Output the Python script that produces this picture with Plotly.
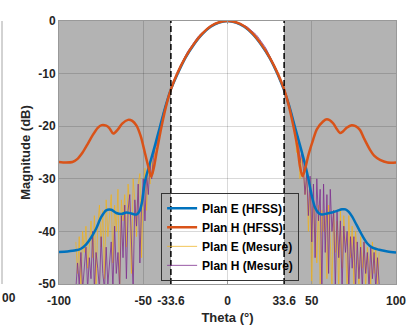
import plotly.graph_objects as go

# ---------------- data ----------------
# HFSS simulations (knots)
theta_e_hfss = [-100, -95, -90, -87, -84, -81, -78, -75, -72, -69,
                -66, -63, -60, -57, -54, -52, -50.5, -49, -46, -43,
                -40, -36.5, -33.6, -30, -25, -20, -15, -10, -5, 0,
                5, 10, 15, 20, 25, 30, 33.6, 36.5, 40, 43,
                46, 48, 50, 52, 54, 56, 59, 62, 65, 68,
                70, 72, 74, 76, 78, 80, 83, 86, 90, 95, 100]
plan_e_hfss = [-43.9, -43.8, -43.6, -43.3, -42.5, -41.2, -39.5, -37.3, -36.0, -35.9,
               -36.5, -36.7, -36.4, -36.6, -36.8, -36.0, -34.0, -30.5, -27.0, -23.6,
               -20.0, -15.9, -13.0, -10.3, -7.0, -4.5, -2.5, -1.1, -0.3, 0,
               -0.3, -1.1, -2.5, -4.5, -7.0, -10.3, -13.2, -16.0, -20.1, -23.6,
               -27.2, -30.0, -33.2, -35.5, -36.5, -36.8, -36.6, -36.4, -36.1, -35.8,
               -35.8, -36.3, -37.2, -38.4, -39.6, -40.8, -42.3, -43.1, -43.5, -43.8, -44.0]

theta_h_hfss = [-100, -96, -92, -89, -86, -83, -80, -77, -74.7, -72,
                -70, -67.8, -65, -62.5, -59, -56.5, -54, -51.5, -49, -47,
                -45.3, -43.8, -42, -39, -36, -33.6, -30, -25, -20, -15,
                -10, -5, 0, 5, 10, 15, 20, 25, 30, 33.6,
                36, 39, 41.5, 43, 44.5, 46, 48, 50.8, 53, 56.7,
                59, 62.6, 65, 66.8, 68.5, 70.7, 73.7, 76, 78.6, 81,
                84.6, 87, 90.5, 95, 100]
plan_h_hfss = [-26.8, -26.9, -26.8, -26.2, -25.0, -23.4, -21.7, -20.3, -19.8, -19.9,
               -20.4, -21.4, -20.6, -19.5, -18.8, -19.0, -19.9, -21.9, -25.1, -27.7,
               -29.6, -28.0, -24.8, -19.8, -15.6, -13.0, -10.1, -6.9, -4.4, -2.4,
               -1.0, -0.25, 0, -0.25, -1.0, -2.4, -4.4, -6.9, -10.1, -13.0,
               -15.6, -19.8, -24.0, -27.6, -29.5, -28.2, -25.5, -22.6, -20.6, -19.1,
               -18.7, -19.4, -20.6, -21.3, -21.0, -20.3, -19.8, -20.0, -20.7, -22.3,
               -24.5, -25.6, -26.4, -26.9, -26.9]

# Measurements, one value per degree from -90 to 90
theta_mes = list(range(-90, 91))
plan_e_mes = [
    # -90 .. -37
    -42, -48, -41, -51, -40, -44, -39, -47, -43, -38,
    -45, -37, -50, -39, -35, -43, -36, -49, -34, -41,
    -37, -33, -46, -35, -40, -32, -51, -34, -38, -33,
    -43, -31, -36, -48, -30, -34, -41, -31, -29, -45,
    -32, -28, -36, -27, -31, -26, -29, -24, -25, -22,
    -20, -18.5, -17.2, -16.1,
    # -36 .. 36
    -15.4, -14.5, -13.4, -12.6, -11.7, -10.9, -10.2, -9.4, -8.8, -8.0,
    -7.5, -6.9, -6.3, -5.8, -5.2, -4.8, -4.3, -3.9, -3.4, -3.0,
    -2.7, -2.3, -2.0, -1.7, -1.4, -1.2, -0.95, -0.8, -0.6, -0.45,
    -0.35, -0.25, -0.15, -0.1, -0.05, -0.02, 0,
    -0.02, -0.06, -0.12, -0.2, -0.3, -0.4, -0.55, -0.7, -0.9, -1.1,
    -1.3, -1.55, -1.85, -2.15, -2.5, -2.85, -3.2, -3.6, -4.0, -4.5,
    -5.0, -5.5, -6.0, -6.6, -7.2, -7.8, -8.4, -9.1, -9.8, -10.5,
    -11.2, -12.0, -12.8, -13.6, -14.5, -15.4,
    # 37 .. 90
    -16.6, -17.8, -19.2, -21, -25, -23, -30, -26, -28, -33,
    -29, -40, -31, -51, -34, -38, -46, -35, -51, -36,
    -40, -37, -49, -35, -42, -51, -36, -44, -38, -51,
    -36, -47, -37, -42, -51, -37, -45, -39, -50, -40,
    -44, -51, -41, -47, -42, -51, -43, -46, -50, -42,
    -48, -43, -51, -44,
]
plan_h_mes = [
    # -90 .. -37
    -51, -46, -50, -44, -51, -47, -43, -51, -45, -49,
    -40, -51, -44, -47, -51, -41, -48, -51, -43, -50,
    -46, -42, -51, -39, -48, -44, -51, -37, -45, -35,
    -49, -36, -33, -42, -51, -34, -39, -31, -46, -35,
    -30, -38, -29, -33, -27, -30, -26, -24, -23.5, -21.5,
    -20, -18.5, -17.3, -16.2,
    # -36 .. 36
    -15.0, -14.2, -13.3, -12.4, -11.5, -10.7, -9.9, -9.2, -8.5, -7.8,
    -7.2, -6.6, -6.0, -5.5, -5.0, -4.5, -4.0, -3.6, -3.2, -2.8,
    -2.5, -2.2, -1.9, -1.6, -1.3, -1.1, -0.9, -0.7, -0.55, -0.4,
    -0.3, -0.2, -0.12, -0.06, -0.02, 0, -0.02,
    -0.05, -0.08, -0.12, -0.18, -0.25, -0.35, -0.45, -0.55, -0.7, -0.85,
    -1.0, -1.2, -1.45, -1.7, -2.0, -2.3, -2.6, -3.0, -3.4, -3.8,
    -4.3, -4.8, -5.3, -5.9, -6.5, -7.1, -7.8, -8.5, -9.2, -10.0,
    -10.8, -11.6, -12.5, -13.4, -14.4, -15.4,
    # 37 .. 90
    -16.3, -17.5, -18.8, -20, -23, -22, -27, -25, -28, -33,
    -29, -37, -29.5, -42, -31, -45, -30, -38, -32, -51,
    -31, -44, -33, -48, -32, -40, -36, -51, -36, -45,
    -38, -51, -39, -44, -40, -51, -41, -47, -41, -51,
    -42, -49, -43, -51, -42, -48, -44, -51, -43, -49,
    -44, -51, -45, -50,
]
assert len(plan_e_mes) == len(theta_mes) == len(plan_h_mes)

beam_edge = 33.6
x_ticks = [-100, -50, -33.6, 0, 33.6, 50, 100]
x_tick_text = ["-100", "-50", "-33.6", "0", "33.6", "50", "100"]
y_ticks = [0, -10, -20, -30, -40, -50]

# ---------------- figure ----------------
FONT = "Liberation Sans, Arial, sans-serif"
TXT = "#262626"
fig = go.Figure()

fig.add_trace(go.Scatter(x=theta_mes, y=plan_e_mes, mode="lines", name="Plan E (Mesure)",
                         line=dict(color="rgba(237,177,32,0.75)", width=1), legendrank=3))
fig.add_trace(go.Scatter(x=theta_mes, y=plan_h_mes, mode="lines", name="Plan H (Mesure)",
                         line=dict(color="rgba(126,47,142,0.8)", width=1), legendrank=4))
fig.add_trace(go.Scatter(x=theta_e_hfss, y=plan_e_hfss, mode="lines", name="Plan E (HFSS)",
                         line=dict(color="#0072BD", width=2.5, shape="spline", smoothing=0.8),
                         legendrank=1))
fig.add_trace(go.Scatter(x=theta_h_hfss, y=plan_h_hfss, mode="lines", name="Plan H (HFSS)",
                         line=dict(color="#D95319", width=2.5, shape="spline", smoothing=0.8),
                         legendrank=2))

# shaded regions outside the beam
for x0, x1 in [(-100, -beam_edge), (beam_edge, 100)]:
    fig.add_shape(type="rect", xref="x", yref="y", x0=x0, x1=x1, y0=-50, y1=0,
                  fillcolor="#b3b3b3", line=dict(width=0), layer="below")
for xv in [-beam_edge, beam_edge]:
    fig.add_shape(type="line", xref="x", yref="y", x0=xv, x1=xv, y0=-50, y1=0,
                  line=dict(color="black", width=1.5, dash="6px,3px"), layer="above")

# edge of the neighbouring (cropped) panel
fig.add_shape(type="line", xref="paper", yref="paper", x0=-57 / 337, x1=-57 / 337, y0=0, y1=1,
              line=dict(color="#a6a6a6", width=1))
fig.add_annotation(xref="paper", yref="paper", x=-59 / 337, y=-14 / 263, text="<b>00</b>",
                   showarrow=False, xanchor="left", yanchor="middle",
                   font=dict(family=FONT, size=12, color=TXT))

fig.update_xaxes(range=[-100, 100], tickvals=x_ticks, ticktext=x_tick_text, automargin=False,
                 showgrid=True, gridcolor="rgba(0,0,0,0.15)", gridwidth=1,
                 zeroline=False, showline=True, linecolor="#999999", linewidth=1, mirror="allticks",
                 ticks="inside", ticklen=3, tickcolor="#999999", ticklabelstandoff=6,
                 tickfont=dict(family=FONT, size=12, color=TXT, weight="bold"),
                 title=dict(text="<b>Theta (°)</b>", font=dict(family=FONT, size=13, color=TXT),
                            standoff=8))
fig.update_yaxes(range=[-50, 0], tickvals=y_ticks, ticktext=[str(v) for v in y_ticks], automargin=False,
                 showgrid=True, gridcolor="rgba(0,0,0,0.15)", gridwidth=1,
                 zeroline=False, showline=True, linecolor="#999999", linewidth=1, mirror="allticks",
                 ticks="inside", ticklen=3, tickcolor="#999999",
                 tickfont=dict(family=FONT, size=12, color=TXT, weight="bold"),
                 title=dict(text="<b>Magnitude (dB)</b>", font=dict(family=FONT, size=13, color=TXT),
                            standoff=4))

fig.update_layout(
    width=410, height=325,
    margin=dict(l=59, r=14, t=21, b=41, autoexpand=False),
    paper_bgcolor="white", plot_bgcolor="white",
    font=dict(family=FONT, size=12, color=TXT),
    legend=dict(x=0.303, y=0.012, xanchor="left", yanchor="bottom",
                bgcolor="rgba(0,0,0,0)", bordercolor="#333333", borderwidth=1,
                font=dict(family=FONT, size=12, color="black", weight="bold"),
                tracegroupgap=0, itemwidth=30),
    showlegend=True,
)

fig.write_html("out.html", config={"displayModeBar": False},
               post_script="document.body.style.margin='0px';")
